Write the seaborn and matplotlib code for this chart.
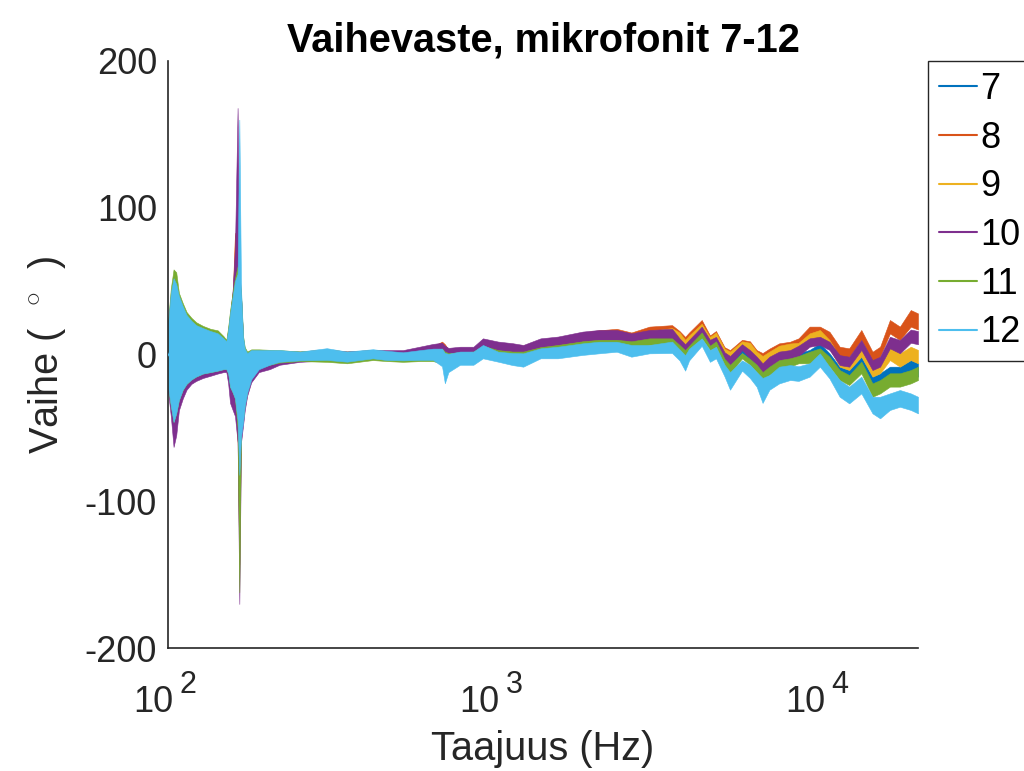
import numpy as np
import pandas as pd
import matplotlib
matplotlib.use("Agg")
import matplotlib.pyplot as plt
from matplotlib.lines import Line2D
from matplotlib.ticker import FixedLocator, NullLocator
from matplotlib.transforms import ScaledTranslation
import seaborn as sns

# Frequency grid (Hz) at which the phase band of each microphone is given
FREQ = [100, 102, 104, 106, 108, 111, 114, 118, 122, 128,
        135, 142, 148, 151, 153, 155, 158, 160.5, 163.5, 165.5,
        167.5, 170, 172, 175, 180, 190, 205, 220, 254, 307,
        354, 425, 470, 526, 594, 650, 693, 707, 725, 787,
        865, 925, 1030, 1140, 1230, 1390, 1570, 1870, 2100, 2380,
        2640, 3000, 3520, 3710, 3860, 3970, 4340, 4600, 4800, 5100,
        5300, 5770, 6100, 6400, 6670, 7000, 7500, 8100, 8600, 9300,
        10000, 10700, 11500, 12300, 13400, 14500, 15300, 16400, 17600, 19000,
        20000]

# Lower / upper edge of each phase trace (degrees)
MIC7_LO = [-20, -33, -44, -38, -30, -23, -19, -16, -14, -12,
           -11, -10, -9, -9, -12, -20, -25, -28, -50, -110,
           -45, -40, -30, -22, -15, -9, -6, -4.5, -3.5, -3.5,
           -4, -2.5, -3, -3, -2.5, -2, -1, -5, -3, -2.5,
           -2.5, 1.5, 0, -1, -1.5, 1.5, 4, 6, 7, 7,
           6, 8, 7, 4, 0, 4, 13, 4, 7, -4,
           -9, 1, -4, -9, -15, -10, -6, -5, -4, -3.8,
           0.8, -3.8, -12.8, -16.3, -7.2, -20.8, -19.7, -15.1, -15.1, -12.8,
           -15.1]
MIC7_HI = [18, 40, 50, 46, 38, 31, 26, 22, 19, 17,
           15, 14, 10.5, 8.5, 16, 26, 40, 55, 58, 48,
           40, 10, 3, 1, 2.5, 2.5, 2.5, 2.5, 2, 3.5,
           2, 3, 2.5, 1.5, 3, 4, 6, 4, 2.5, 3,
           3, 8, 6, 5, 4.5, 8, 9, 12, 13, 13,
           11.5, 13.5, 13, 8, 4, 7, 16, 7, 10, -1,
           -4, 5, 1, -4, -9, -5, -2, -1, 1, 3.1,
           7.6, 0.8, -8.3, -10.6, -1.5, -15.1, -12.8, -8.3, -8.3, -3.8,
           -6]

MIC8_LO = [-20, -33, -44, -38, -30, -23, -19, -16, -14, -12,
           -11, -10, -9, -9, -12, -20, -25, -28, -60, -143,
           -45, -40, -30, -22, -15, -9, -6, -4.5, -3.5, -3,
           -3.5, -2, -2.5, -2.5, -2, -1, 2, -1, -2, -1,
           -1, 3, 1, 0, 0, 3, 5, 8, 9, 11,
           9, 11, 13, 10, 7, 10, 19, 9, 12, 0.8,
           -2, 7, 3, -2.6, -8, -2.6, 0.8, 2, 4, 12.1,
           12.1, 8.7, -1.5, -1.5, 9.9, -4.9, -1.5, 14.4, 9.9, 19,
           17]
MIC8_HI = [18, 40, 50, 47, 38, 32, 26, 22, 19, 17,
           15.5, 16, 11, 9, 17, 27, 42, 83, 60, 50,
           40, 10, 3, 1, 2.5, 2.5, 2.5, 2.5, 2, 3.5,
           2, 3, 2.5, 2, 4, 5.5, 8.8, 7, 3.5, 4,
           4.5, 9.5, 7.5, 6.5, 6, 10, 11.5, 15, 16.5, 17.5,
           15, 19, 20, 16, 12, 15, 23.5, 13, 16, 5,
           3, 10, 9, 3, 1, 4, 7.6, 8.7, 11, 19,
           19, 15.5, 5.3, 4.2, 16.7, 1.9, 5.3, 23.5, 19, 30.3,
           28]

MIC9_LO = [-20, -33, -44, -38, -30, -23, -19, -16, -14, -12,
           -11, -10, -9, -9, -12, -20, -25, -28, -55, -120,
           -45, -40, -30, -22, -15, -9, -6, -4.5, -3.5, -3,
           -3.5, -2, -2.5, -2.5, -2, -1.5, 1, -3, -2.5, -1.5,
           -1.5, 2.5, 1, 0, -0.5, 2.5, 4.5, 7, 8, 9,
           7, 9, 12, 9, 5, 8, 17, 8, 11, -0.5,
           -3, 6, 2, -3, -9, -3, 0, 1, 2, 9.9,
           9.9, 4.2, -8.3, -10.6, -1.5, -15.1, -12.8, -3.8, -8.3, -3.8,
           -6]
MIC9_HI = [18, 40, 50, 46, 38, 31, 26, 22, 19, 17,
           15, 14, 10.5, 8.5, 16, 26, 40, 60, 58, 48,
           40, 10, 3, 1, 2.5, 2.5, 2.5, 2.5, 2, 3.5,
           2, 3, 2.5, 2, 4, 5, 7.5, 5, 3, 3.5,
           4, 9, 7, 6, 5.5, 9, 10.5, 13.5, 15, 15.5,
           13, 16, 18, 15, 10, 13, 21, 12, 15, 4,
           2, 9, 8, 2, -1, 2, 6, 7.5, 8, 14.4,
           16.7, 9.9, -1.5, -3.8, 5.3, -8.3, -6, 5.3, 0.8, 5.3,
           3.1]

MIC10_LO = [-25, -42, -63, -55, -38, -30, -24, -20, -18, -16,
            -14.5, -13, -12, -12, -20, -33, -38, -42, -60, -170,
            -60, -48, -38, -28, -19, -12, -10, -7, -5, -4,
            -4, -2, -2, -1, 0, 1, 2, -2, 0, 1,
            1, 5, 3, 2, 1, 5, 6.5, 9, 10, 10,
            8.7, 9, 10, 6, 2, 5, 14.5, 5, 9, -3,
            -8, 3, -2.6, -7, -14, -8, -4.9, -3.8, -1, 5.3,
            6.5, 3.1, -7.2, -8.3, 3.1, -10.6, -8.3, 4.2, 0.8, 8,
            7]
MIC10_HI = [18, 40, 50, 46, 38, 31, 25, 21, 18, 16,
            14, 13, 10, 8, 15, 26, 45, 73, 168, 60,
            40, 10, 3, 0.5, 2, 2, 2, 2, 1, 3,
            2, 3, 3, 3, 5.4, 7.2, 8, 6, 4.5, 5.3,
            5.3, 11, 8.8, 7.7, 6.5, 11, 12.2, 15.6, 16.7, 16.7,
            14.4, 16.7, 17.5, 11, 7, 10, 19, 10, 12, 1.5,
            -1, 7, 3, -1.5, -6, -1.5, 2, 3, 6, 11,
            12.1, 8.7, -0.4, -1.5, 9.9, -3.8, -1.5, 12.1, 9.9, 17,
            16]

MIC11_LO = [-22, -35, -46, -40, -31, -24, -20, -17, -15, -13,
            -12, -11, -10, -10, -13, -22, -26, -30, -50, -162,
            -50, -44, -34, -25, -16, -9, -7, -5.5, -4.5, -5,
            -6, -3.8, -4.5, -5, -4.5, -4.5, -6, -10, -6, -5,
            -5, -1, -3, -4, -4, 0, 3, 4, 5, 5,
            4, 6.5, 6.5, 3, -1, 3, 11, 3, 5, -8,
            -13, -2.6, -7, -12, -17, -14, -9.4, -8.3, -6, -6,
            -3.8, -8.3, -17.4, -20.8, -12.8, -28.8, -26.5, -21.9, -21.9, -19.7,
            -17.4]
MIC11_HI = [22, 45, 58, 56, 42, 35, 29, 25, 22, 19.5,
            17.5, 16.5, 12.5, 10, 19, 30, 43, 52, 60, 55,
            42, 12.5, 5, 2, 3.5, 3.5, 3.2, 3, 2, 3,
            1.5, 3, 2, 1, 2, 3, 4, 2, 1, 1.5,
            2, 6, 3, 2, 2, 5, 6.5, 9, 10, 10,
            9, 11, 11, 6.5, 3, 6, 15, 6, 9, -3,
            -7, 1, -3, -7, -12, -8.3, -3.8, -2.6, -1, 1.9,
            4.2, -1.5, -10.6, -14, -4.9, -19.7, -17.4, -12.8, -12.8, -10.6,
            -8.3]

MIC12_LO = [-22, -35, -46, -40, -31, -24, -20, -17, -15, -13,
            -12, -11, -10, -10, -13, -22, -26, -30, -45, -82,
            -56, -46, -35, -26, -17, -10, -7, -5, -4, -3.7,
            -4.9, -2.6, -3.8, -4, -3.7, -3.7, -8, -19.6, -12, -7,
            -7, -2.6, -4.9, -7.2, -8.3, -2.6, -2.6, -0.3, 0.8, 1.9,
            -1.5, 0.8, 1, -4, -11, -4, 6, -5, -2.6, -15,
            -24, -11, -16, -22, -33, -24, -19.7, -17.4, -18, -15.1,
            -8.3, -16.3, -28.8, -33.3, -26.5, -40.1, -43.5, -37.8, -35.6, -37.8,
            -40.1]
MIC12_HI = [20, 42, 52, 48, 40, 33, 27, 23, 20, 18,
            16, 14.5, 11, 9, 17, 28, 40, 50, 55, 160,
            45, 12, 4, 1, 3, 3, 3, 3, 2, 4.3,
            2, 3.6, 2.5, 1.5, 3, 4, 4, 1, 0.5, 2,
            2, 6.5, 1.9, 1, 0.8, 4.2, 5.3, 7.6, 8.7, 8.7,
            6.5, 6.5, 8.8, 3.5, -0.5, 4, 11, 3, 5.3, -7,
            -12, -4, -7, -12, -16, -14, -8.3, -7.2, -8, -6,
            0.8, -8.3, -17.4, -21.9, -15.1, -28.8, -28.8, -26.5, -24.2, -26.5,
            -28.8]

MICS = ["7", "8", "9", "10", "11", "12"]
EDGES = {
    "7": (MIC7_LO, MIC7_HI),
    "8": (MIC8_LO, MIC8_HI),
    "9": (MIC9_LO, MIC9_HI),
    "10": (MIC10_LO, MIC10_HI),
    "11": (MIC11_LO, MIC11_HI),
    "12": (MIC12_LO, MIC12_HI),
}
COLORS = ["#0072BD", "#D95319", "#EDB120", "#7E2F8E", "#77AC30", "#4DBEEE"]
X_TICKS = [100, 1000, 10000]
X_EXPONENTS = ["2", "3", "4"]
Y_TICKS = [-200, -100, 0, 100, 200]

# Long-form table: each frequency carries the lower and upper edge of the trace
rows = []
for mic in MICS:
    lo, hi = EDGES[mic]
    for f, a, b in zip(FREQ, lo, hi):
        rows.append((f, a, mic))
        rows.append((f, b, mic))
df = pd.DataFrame(rows, columns=["Taajuus", "Vaihe", "Mikrofoni"])

sns.set_theme(style="white")
plt.rcParams["font.family"] = ["Liberation Sans", "DejaVu Sans"]
plt.rcParams["mathtext.fontset"] = "custom"
plt.rcParams["mathtext.rm"] = "Liberation Sans"
plt.rcParams["mathtext.it"] = "Liberation Sans:italic"
plt.rcParams["axes.unicode_minus"] = False

INK = "#262626"
fig = plt.figure(figsize=(10.24, 7.71), dpi=100)
ax = fig.add_axes([168 / 1024, 1 - 648 / 771, 750 / 1024, 587 / 771])
ax.set_xscale("log")

sns.lineplot(data=df, x="Taajuus", y="Vaihe", hue="Mikrofoni", hue_order=MICS,
             palette=COLORS, estimator="mean", errorbar=("pi", 100),
             err_kws={"alpha": 1.0, "linewidth": 0.4}, linewidth=0.8,
             legend=False, ax=ax)

# keep each trace's band and line together so later traces sit on top
for k, (ln, band) in enumerate(zip(ax.lines, ax.collections)):
    band.set_zorder(2 + k * 0.1)
    band.set_edgecolor(COLORS[k])
    ln.set_zorder(2 + k * 0.1 + 0.05)

ax.set_xlim(100, 20000)
ax.set_ylim(-200, 200)
ax.xaxis.set_major_locator(FixedLocator(X_TICKS))
ax.xaxis.set_minor_locator(NullLocator())
ax.set_xticklabels(["10"] * len(X_TICKS))
ax.set_yticks(Y_TICKS)
ax.set_yticklabels([str(v) for v in Y_TICKS])

ax.tick_params(axis="both", which="major", direction="in", length=8, width=1.2,
               color=INK, labelsize=26, labelcolor=INK)
ax.tick_params(axis="x", pad=27)
ax.tick_params(axis="y", pad=8)
shift = ScaledTranslation(5 / 100, 0, fig.dpi_scale_trans)
for lbl in ax.get_xticklabels():
    lbl.set_horizontalalignment("right")
    lbl.set_transform(lbl.get_transform() + shift)

# powers of ten written as raised exponents next to each "10"
for t, e in zip(X_TICKS, X_EXPONENTS):
    ax.annotate(e, xy=(t, 0), xycoords=("data", "axes fraction"),
                xytext=(8.5, -32.5), textcoords="offset points",
                ha="left", va="baseline", fontsize=22, color=INK,
                annotation_clip=False)

for side in ("top", "right"):
    ax.spines[side].set_visible(False)
for side in ("left", "bottom"):
    ax.spines[side].set_color(INK)
    ax.spines[side].set_linewidth(1.2)

ax.set_xlabel("Taajuus (Hz)", fontsize=28.6, color=INK, labelpad=7)
ax.set_ylabel(r"Vaihe (  $^{\circ}$  )", fontsize=28.6, color=INK, labelpad=12)
ax.set_title("Vaihevaste, mikrofonit 7-12", fontsize=28.6, fontweight="bold",
             color="black", pad=7)

handles = [Line2D([], [], color=c, linewidth=1.5) for c in COLORS]
leg = ax.legend(handles, MICS, loc="upper left", bbox_to_anchor=(1.0133, 1.0),
                borderaxespad=0, fontsize=26, frameon=True, fancybox=False,
                framealpha=1, edgecolor=INK, handlelength=1.05,
                handletextpad=0.1, labelspacing=0.38, borderpad=0.3)
leg.get_frame().set_linewidth(1.0)
for txt in leg.get_texts():
    txt.set_color("black")

fig.savefig("out.png", dpi=100)
